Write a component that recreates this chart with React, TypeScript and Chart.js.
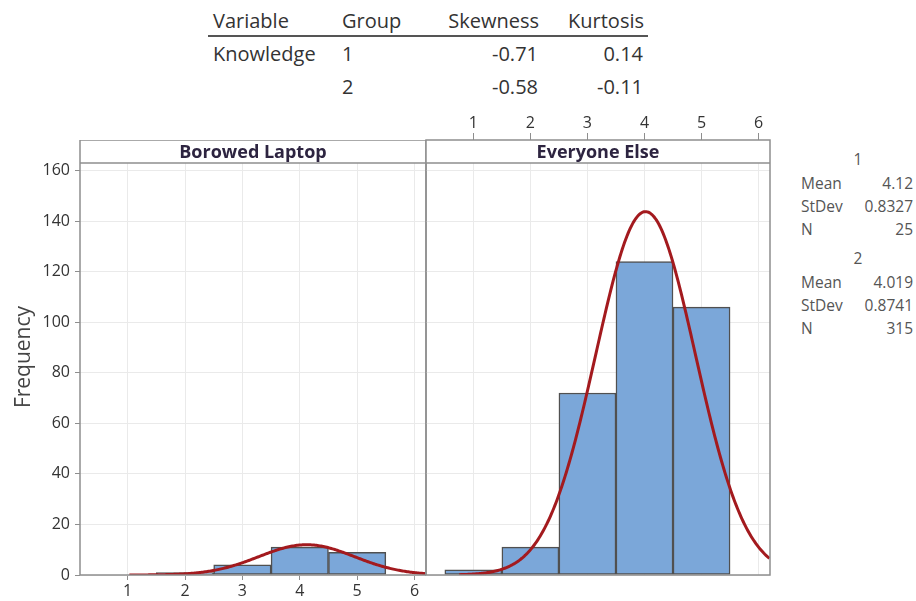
import React, { useEffect, useRef } from 'react';
import { Chart, registerables } from 'chart.js';

Chart.register(...registerables);

const FONT = '"Segoe UI", "Open Sans", sans-serif';

// Histogram bins: width 1, centred on the integer scores
const BIN_CENTERS = [1, 2, 3, 4, 5];
const LAPTOP_FREQ = [0, 1, 4, 11, 9];
const EVERYONE_FREQ = [2, 11, 72, 124, 106];

const PANEL_TITLES = ['Borowed Laptop', 'Everyone Else'];
const GROUPS = ['1', '2'];
const MEANS = [4.12, 4.019];
const STDEVS = [0.8327, 0.8741];
const NS = [25, 315];
const MEAN_TEXT = ['4.12', '4.019'];
const STDEV_TEXT = ['0.8327', '0.8741'];
const SKEWNESS = ['-0.71', '-0.58'];
const KURTOSIS = ['0.14', '-0.11'];

const X_TICKS = [1, 2, 3, 4, 5, 6];
const Y_TICKS = [0, 20, 40, 60, 80, 100, 120, 140, 160];
const X_MIN = 0.17;
const X_MAX = 6.2;
const Y_MAX = 163;
const CURVE_FROM = [1.03, 0.75];

const BAR_FILL = '#7ba7d9';
const BAR_EDGE = '#505050';
const CURVE = '#a31a1e';
const GRID = '#eaeaea';
const FRAME = '#8e8e8e';
const TICK_TEXT = '#333333';
const STRIP_H = 23;

// Normal density scaled to counts (bin width 1)
function fittedCurve(i: number) {
  const mu = MEANS[i];
  const sd = STDEVS[i];
  const n = NS[i];
  const pts: { x: number; y: number }[] = [];
  for (let x = CURVE_FROM[i]; x <= X_MAX + 1e-9; x += 0.02) {
    const z = (x - mu) / sd;
    pts.push({ x, y: (n * Math.exp(-0.5 * z * z)) / (sd * Math.sqrt(2 * Math.PI)) });
  }
  return pts;
}

function panelFrame(title: string) {
  return {
    id: 'panelFrame',
    afterDraw(chart: any) {
      const { ctx, chartArea: a } = chart;
      const top = a.top - STRIP_H;
      ctx.save();
      ctx.fillStyle = '#ffffff';
      ctx.fillRect(a.left, top, a.right - a.left, STRIP_H);
      ctx.strokeStyle = FRAME;
      ctx.lineWidth = 1.5;
      ctx.strokeRect(a.left, top, a.right - a.left, a.bottom - top);
      ctx.beginPath();
      ctx.moveTo(a.left, a.top);
      ctx.lineTo(a.right, a.top);
      ctx.stroke();
      ctx.fillStyle = '#2d2440';
      ctx.font = `bold 18px ${FONT}`;
      ctx.textAlign = 'center';
      ctx.textBaseline = 'middle';
      ctx.fillText(title, (a.left + a.right) / 2, top + STRIP_H / 2 + 1);
      ctx.restore();
    },
  };
}

function datasets(freq: number[], i: number) {
  return [
    {
      type: 'line' as const,
      data: fittedCurve(i),
      borderColor: CURVE,
      borderWidth: 3,
      pointRadius: 0,
      fill: false,
      order: 0,
    },
    {
      type: 'bar' as const,
      data: BIN_CENTERS.map((x, k) => ({ x, y: freq[k] })),
      backgroundColor: BAR_FILL,
      borderColor: BAR_EDGE,
      borderWidth: 1.5,
      borderSkipped: false,
      barPercentage: 1,
      categoryPercentage: 1,
      order: 1,
    },
  ];
}

const tickFont = { family: FONT, size: 16 };

export default function App() {
  const leftRef = useRef<HTMLCanvasElement>(null);
  const rightRef = useRef<HTMLCanvasElement>(null);

  useEffect(() => {
    const common = {
      animation: false as const,
      responsive: false,
      plugins: { legend: { display: false }, tooltip: { enabled: false } },
    };

    const left = new Chart(leftRef.current!, {
      type: 'bar',
      data: { datasets: datasets(LAPTOP_FREQ, 0) as any },
      options: {
        ...common,
        layout: { padding: { top: STRIP_H, right: 4, left: 0, bottom: 0 } },
        scales: {
          x: {
            type: 'linear',
            position: 'bottom',
            min: X_MIN,
            max: X_MAX,
            offset: false,
            afterBuildTicks: (s: any) => {
              s.ticks = X_TICKS.map((v) => ({ value: v }));
            },
            afterFit: (s: any) => {
              s.height = 26;
            },
            grid: { color: GRID, tickColor: FRAME, tickLength: 5, offset: false },
            border: { display: false },
            ticks: { font: tickFont, color: TICK_TEXT, padding: 2, maxRotation: 0 },
          },
          y: {
            type: 'linear',
            min: 0,
            max: Y_MAX,
            afterBuildTicks: (s: any) => {
              s.ticks = Y_TICKS.map((v) => ({ value: v }));
            },
            afterFit: (s: any) => {
              s.width = 80;
            },
            grid: { color: GRID, tickColor: FRAME, tickLength: 5 },
            border: { display: false },
            ticks: { font: tickFont, color: TICK_TEXT, padding: 5 },
          },
        },
      } as any,
      plugins: [panelFrame(PANEL_TITLES[0])],
    });

    const right = new Chart(rightRef.current!, {
      type: 'bar',
      data: { datasets: datasets(EVERYONE_FREQ, 1) as any },
      options: {
        ...common,
        layout: { padding: { top: 0, right: 10, left: 6, bottom: 26 } },
        scales: {
          x: {
            type: 'linear',
            position: 'top',
            min: X_MIN,
            max: X_MAX,
            offset: false,
            afterBuildTicks: (s: any) => {
              s.ticks = X_TICKS.map((v) => ({ value: v }));
            },
            afterFit: (s: any) => {
              s.height = 53;
            },
            grid: { color: GRID, tickColor: FRAME, tickLength: 30, offset: false },
            border: { display: false },
            ticks: { font: tickFont, color: TICK_TEXT, padding: 0, maxRotation: 0 },
          },
          y: {
            type: 'linear',
            min: 0,
            max: Y_MAX,
            afterBuildTicks: (s: any) => {
              s.ticks = Y_TICKS.map((v) => ({ value: v }));
            },
            afterFit: (s: any) => {
              s.width = 0;
            },
            grid: { color: GRID, drawTicks: false },
            border: { display: false },
            ticks: { display: false },
          },
        },
      } as any,
      plugins: [panelFrame(PANEL_TITLES[1])],
    });

    return () => {
      left.destroy();
      right.destroy();
    };
  }, []);

  const tableText: React.CSSProperties = {
    position: 'absolute',
    fontFamily: FONT,
    fontSize: 20,
    color: '#333',
    height: 26,
    lineHeight: '26px',
    whiteSpace: 'nowrap',
  };
  const cell = (text: string, cy: number, x: number, align: 'left' | 'right') => (
    <div
      key={`${text}-${cy}-${x}`}
      style={{
        ...tableText,
        top: cy - 13,
        ...(align === 'left' ? { left: x } : { right: 916 - x }),
      }}
    >
      {text}
    </div>
  );

  const legendText: React.CSSProperties = {
    position: 'absolute',
    fontFamily: FONT,
    fontSize: 15.5,
    color: '#555',
    height: 20,
    lineHeight: '20px',
    whiteSpace: 'nowrap',
  };
  const legendBlock = (g: number, y0: number) => {
    const rows = [
      ['Mean', MEAN_TEXT[g]],
      ['StDev', STDEV_TEXT[g]],
      ['N', String(NS[g])],
    ];
    return (
      <React.Fragment key={`leg-${g}`}>
        <div style={{ ...legendText, top: y0 - 10, left: 800, width: 116, textAlign: 'center' }}>
          {GROUPS[g]}
        </div>
        {rows.map((r, k) => (
          <React.Fragment key={r[0]}>
            <div style={{ ...legendText, top: y0 + 24 + k * 23 - 10, left: 801 }}>{r[0]}</div>
            <div style={{ ...legendText, top: y0 + 24 + k * 23 - 10, right: 916 - 913 }}>{r[1]}</div>
          </React.Fragment>
        ))}
      </React.Fragment>
    );
  };

  return (
    <div
      style={{
        position: 'absolute',
        left: 0,
        top: 0,
        width: 916,
        height: 601,
        background: '#ffffff',
        overflow: 'hidden',
      }}
    >
      {/* Skewness / kurtosis table */}
      {cell('Variable', 21, 213, 'left')}
      {cell('Group', 21, 342, 'left')}
      {cell('Skewness', 21, 539, 'right')}
      {cell('Kurtosis', 21, 644, 'right')}
      <div style={{ position: 'absolute', left: 208, top: 35, width: 440, height: 2, background: '#555' }} />
      {cell('Knowledge', 54, 213, 'left')}
      {GROUPS.map((g, i) => (
        <React.Fragment key={`row-${g}`}>
          {cell(g, 54 + i * 33, 342, 'left')}
          {cell(SKEWNESS[i], 54 + i * 33, 538, 'right')}
          {cell(KURTOSIS[i], 54 + i * 33, 643, 'right')}
        </React.Fragment>
      ))}

      <canvas
        ref={leftRef}
        width={430}
        height={461}
        style={{ position: 'absolute', left: 0, top: 140, width: 430, height: 461 }}
      />
      <canvas
        ref={rightRef}
        width={360}
        height={491}
        style={{ position: 'absolute', left: 420, top: 110, width: 360, height: 491 }}
      />

      {/* y-axis title */}
      <div
        style={{
          position: 'absolute',
          left: 22 - 70,
          top: 357 - 14,
          width: 140,
          height: 28,
          lineHeight: '28px',
          textAlign: 'center',
          transform: 'rotate(-90deg)',
          fontFamily: FONT,
          fontSize: 21,
          color: '#444',
        }}
      >
        Frequency
      </div>

      {legendBlock(0, 159)}
      {legendBlock(1, 258)}
    </div>
  );
}
